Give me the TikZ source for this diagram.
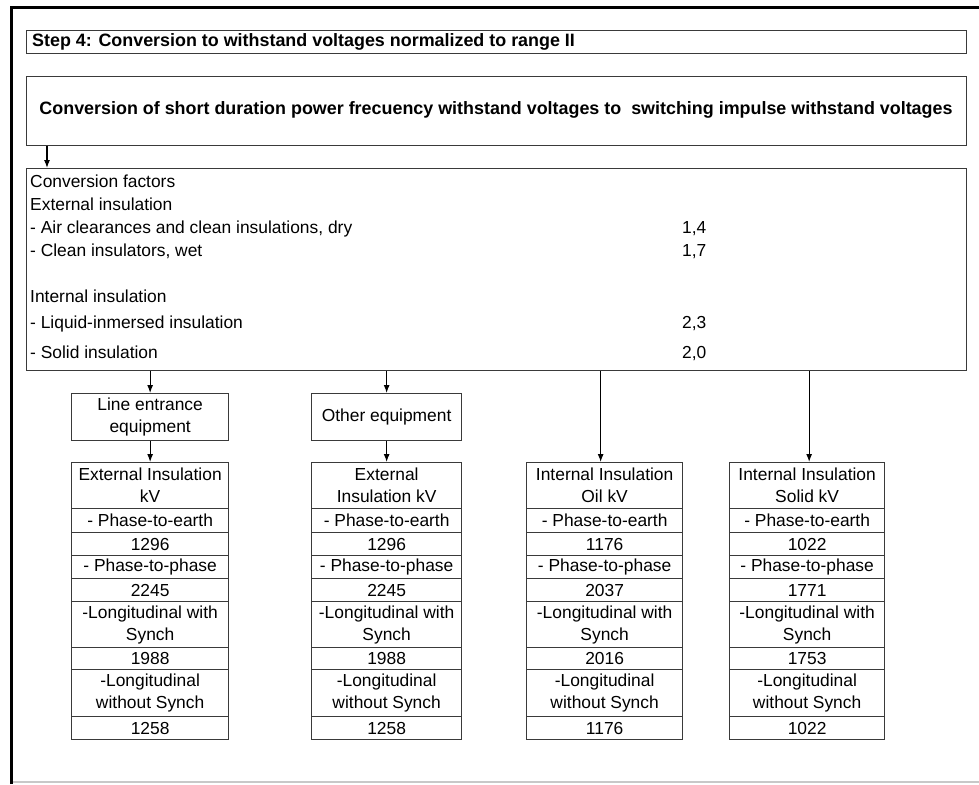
\documentclass[tikz,border=0pt]{standalone}
\usepackage{fontspec}
\setmainfont{Liberation Sans}
\usetikzlibrary{arrows.meta}
\definecolor{boxline}{HTML}{3A3A3A}
\definecolor{framegray}{HTML}{C8C8C8}
\begin{document}
\begin{tikzpicture}[x=1pt,y=-1pt,
  every node/.style={font=\fontsize{17.4}{22}\selectfont},
  box/.style={draw=boxline,line width=1.3pt,inner sep=0pt,anchor=north west},
  boldtxt/.style={font=\fontsize{17.9}{22}\selectfont\bfseries,inner sep=0pt},
  plaintxt/.style={inner sep=0pt,anchor=base west},
  arr/.style={draw=black,line width=1.1pt,-{Latex[length=8pt,width=6pt]}}
]
\useasboundingbox (0,0) rectangle (979,784);

% outer frame (left and top edges heavy, bottom edge faint)
\draw[framegray,line width=2pt] (10,782) -- (979,782);
\draw[black,line width=3pt] (11,784) -- (11,7.5) -- (979,7.5);

% headings
\node[box,minimum width=940pt,minimum height=23pt] (step) at (26,30) {};
\node[boldtxt,anchor=west] (steptxt) at (32,42) {Step 4: Conversion to withstand voltages normalized to range II};
\node[box,minimum width=940pt,minimum height=69pt] (title) at (26,76) {};
\node[boldtxt] (titletxt) at (496,110) {Conversion of short duration power frecuency withstand voltages to\ \ switching impulse withstand voltages};

% conversion factors
\node[box,minimum width=940pt,minimum height=202pt] (conv) at (26,168) {};
\node[plaintxt] (cf)  at (30,187) {Conversion factors};
\node[plaintxt] (ext) at (30,210) {External insulation};
\node[plaintxt] (air) at (30,233) {- Air clearances and clean insulations, dry};
\node[plaintxt] (wet) at (30,256) {- Clean insulators, wet};
\node[plaintxt] (int) at (30,302) {Internal insulation};
\node[plaintxt] (liq) at (30,328) {- Liquid-inmersed insulation};
\node[plaintxt] (sol) at (30,358) {- Solid insulation};
\node[plaintxt] (vair) at (682,233) {1,4};
\node[plaintxt] (vwet) at (682,256) {1,7};
\node[plaintxt] (vliq) at (682,328) {2,3};
\node[plaintxt] (vsol) at (682,358) {2,0};

\draw[arr] ([xshift=21pt]title.south west) -- ([xshift=21pt]conv.north west);

% equipment groups
\node[box,minimum width=157pt,minimum height=47pt,align=center] (le) at (71,393) {Line entrance\\equipment};
\node[box,minimum width=150pt,minimum height=47pt,align=center] (oe) at (311,393) {Other equipment};

% result tables
\foreach \n/\x/\w/\head/\va/\vb/\vc/\vd in {
  1/71/157/{External Insulation\\kV}/1296/2245/1988/1258,
  2/311/150/{External\\Insulation kV}/1296/2245/1988/1258,
  3/526/156/{Internal Insulation\\Oil kV}/1176/2037/2016/1176,
  4/729/155/{Internal Insulation\\Solid kV}/1022/1771/1753/1022}{
  \foreach \r/\top/\h/\txt in {
    1/462/46/{\head},
    2/508/24/{- Phase-to-earth},
    3/532/23/{\va},
    4/555/23/{- Phase-to-phase},
    5/578/23/{\vb},
    6/601/46/{-Longitudinal with\\Synch},
    7/647/22/{\vc},
    8/669/47/{-Longitudinal\\without Synch},
    9/716/23/{\vd}}{
    \node[box,minimum width=\w pt,minimum height=\h pt,align=center] (t\n-\r) at (\x,\top) {\txt};
  }
}

% connectors
\draw[arr] (conv.south -| le.north) -- (le.north);
\draw[arr] (le.south) -- (t1-1.north);
\draw[arr] (conv.south -| oe.north) -- (oe.north);
\draw[arr] (oe.south) -- (t2-1.north);
\draw[arr] ([xshift=-4pt]conv.south -| t3-1.north) -- ([xshift=-4pt]t3-1.north);
\draw[arr] ([xshift=2pt]conv.south -| t4-1.north) -- ([xshift=2pt]t4-1.north);
\end{tikzpicture}
\end{document}
